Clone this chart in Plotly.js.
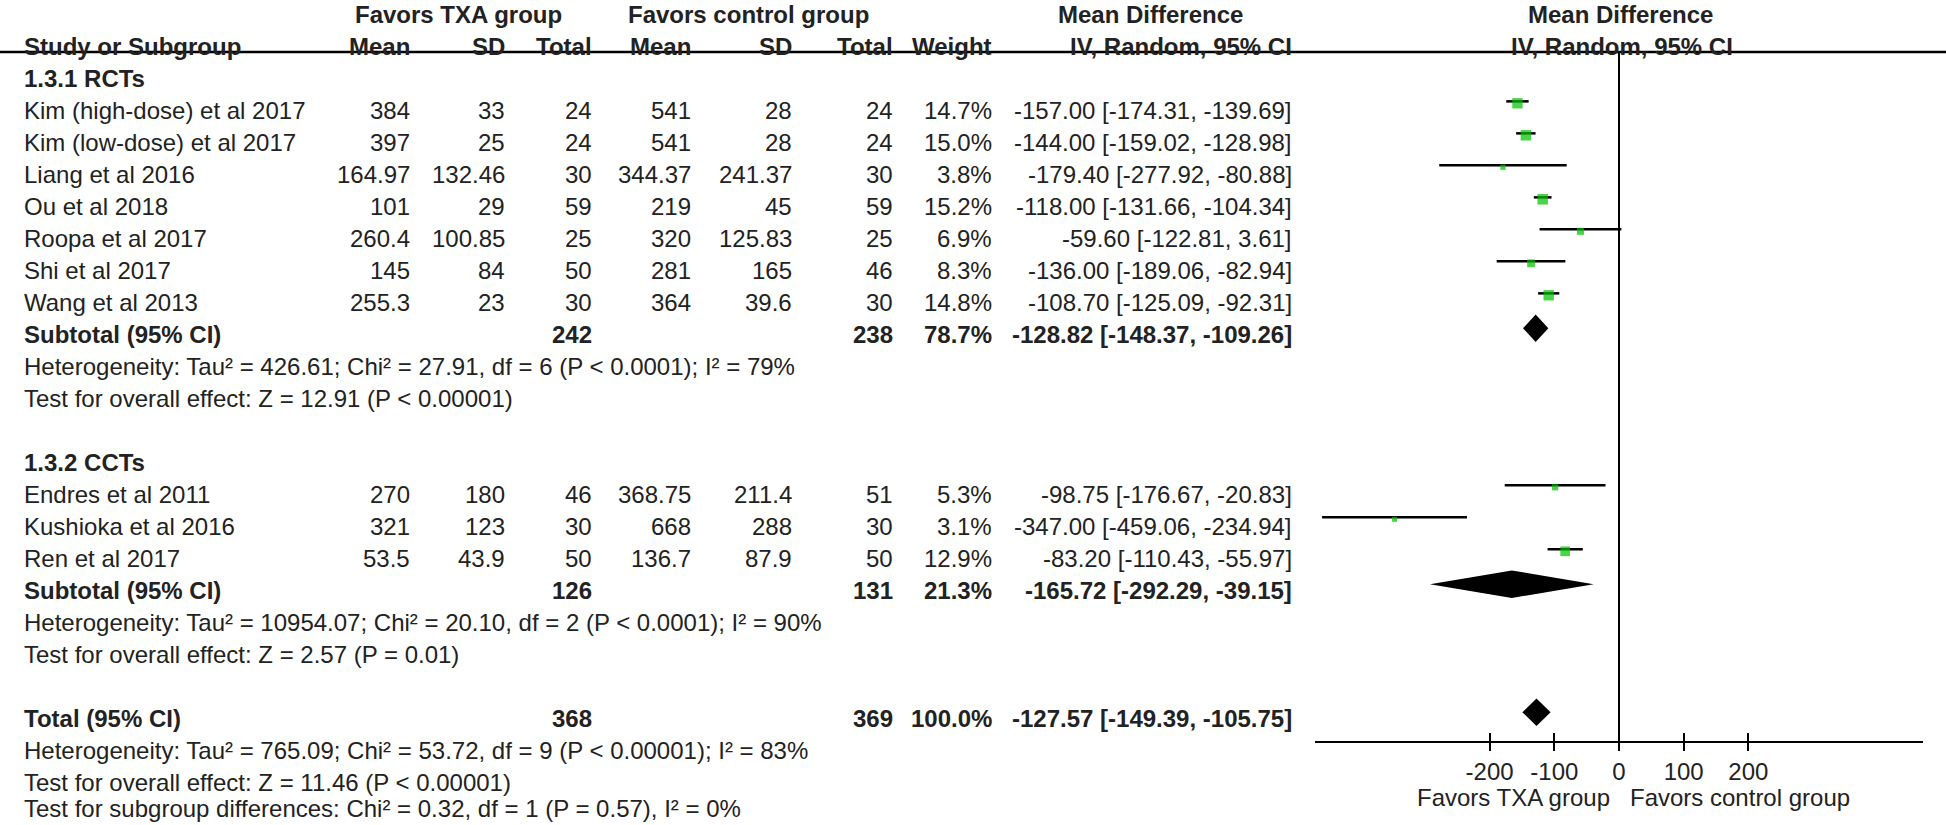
<!DOCTYPE html>
<html>
<head>
<meta charset="utf-8">
<script src="https://cdn.plot.ly/plotly-3.0.1.min.js"></script>
<style>
  html, body { margin: 0; padding: 0; background: #fff; }
  #fig { width: 1946px; height: 825px; }
</style>
</head>
<body>
<div id="fig"></div>
<script>
// study level data
const studies = ['Kim (high-dose) et al 2017', 'Kim (low-dose) et al 2017', 'Liang et al 2016',
  'Ou et al 2018', 'Roopa et al 2017', 'Shi et al 2017', 'Wang et al 2013',
  'Endres et al 2011', 'Kushioka et al 2016', 'Ren et al 2017'];
const group = [0, 0, 0, 0, 0, 0, 0, 1, 1, 1];
const txaMean = [384, 397, 164.97, 101, 260.4, 145, 255.3, 270, 321, 53.5];
const txaSD = [33, 25, 132.46, 29, 100.85, 84, 23, 180, 123, 43.9];
const txaN = [24, 24, 30, 59, 25, 50, 30, 46, 30, 50];
const ctlMean = [541, 541, 344.37, 219, 320, 281, 364, 368.75, 668, 136.7];
const ctlSD = [28, 28, 241.37, 45, 125.83, 165, 39.6, 211.4, 288, 87.9];
const ctlN = [24, 24, 30, 59, 25, 46, 30, 51, 30, 50];
const weight = [14.7, 15.0, 3.8, 15.2, 6.9, 8.3, 14.8, 5.3, 3.1, 12.9];
const md = [-157.00, -144.00, -179.40, -118.00, -59.60, -136.00, -108.70, -98.75, -347.00, -83.20];
const ciLow = [-174.31, -159.02, -277.92, -131.66, -122.81, -189.06, -125.09, -176.67, -459.06, -110.43];
const ciHigh = [-139.69, -128.98, -80.88, -104.34, 3.61, -82.94, -92.31, -20.83, -234.94, -55.97];

// subgroups
const subNames = ['1.3.1 RCTs', '1.3.2 CCTs'];
const subTxaN = [242, 126];
const subCtlN = [238, 131];
const subWeight = [78.7, 21.3];
const subMd = [-128.82, -165.72];
const subLow = [-148.37, -292.29];
const subHigh = [-109.26, -39.15];
const subHet = ['Heterogeneity: Tau² = 426.61; Chi² = 27.91, df = 6 (P < 0.0001); I² = 79%',
  'Heterogeneity: Tau² = 10954.07; Chi² = 20.10, df = 2 (P < 0.0001); I² = 90%'];
const subTest = ['Test for overall effect: Z = 12.91 (P < 0.00001)',
  'Test for overall effect: Z = 2.57 (P = 0.01)'];

// overall
const totTxaN = 368, totCtlN = 369, totWeight = 100.0;
const totMd = -127.57, totLow = -149.39, totHigh = -105.75;
const totNotes = ['Heterogeneity: Tau² = 765.09; Chi² = 53.72, df = 9 (P < 0.00001); I² = 83%',
  'Test for overall effect: Z = 11.46 (P < 0.00001)',
  'Test for subgroup differences: Chi² = 0.32, df = 1 (P = 0.57), I² = 0%'];

const tickVals = [-200, -100, 0, 100, 200];

// ---- layout constants (pixels) ----
const W = 1946, H = 825;
const ROW0 = 14, PITCH = 32;            // row r sits at ROW0 + r*PITCH px
const LINE_OFF = -0.27;                  // CI lines sit above the text centre
const SQ_OFF = -0.21;                    // squares a touch below their line
const DIA_OFF = -0.18;
const FONT = 'Liberation Sans, Arial, sans-serif';
const TXT = '#222';
const FS = 24;
const col = {study: 22, tMean: 412, tSD: 507, tN: 594, cMean: 693, cSD: 794, cN: 895, wt: 994, ci: 1294};

const fmtCI = (m, l, h) => m.toFixed(2) + ' [' + l.toFixed(2) + ', ' + h.toFixed(2) + ']';
const annotations = [];
function ann(text, xpx, r, anchor, bold) {
  annotations.push({
    text: bold ? '<b>' + text + '</b>' : text,
    xref: 'paper', yref: 'y', x: xpx / W, y: r,
    xanchor: anchor, yanchor: 'middle', showarrow: false,
    font: {family: FONT, size: FS, color: TXT}
  });
}

// headers
ann('Favors TXA group', 458, 0, 'center', true);
ann('Favors control group', 748, 0, 'center', true);
ann('Mean Difference', 1150, 0, 'center', true);
ann('Mean Difference', 1620, 0, 'center', true);
ann('Study or Subgroup', col.study, 1, 'left', true);
ann('Mean', col.tMean, 1, 'right', true);
ann('SD', col.tSD, 1, 'right', true);
ann('Total', col.tN, 1, 'right', true);
ann('Mean', col.cMean, 1, 'right', true);
ann('SD', col.cSD, 1, 'right', true);
ann('Total', col.cN, 1, 'right', true);
ann('Weight', col.wt, 1, 'right', true);
ann('IV, Random, 95% CI', col.ci, 1, 'right', true);
ann('IV, Random, 95% CI', 1622, 1, 'center', true);

// forest mark containers
const ciX = [], ciY = [], sqX = [], sqY = [], sqS = [];
const diamonds = [];

let r = 2;
subNames.forEach((name, g) => {
  ann(name, col.study, r, 'left', true);
  r++;
  studies.forEach((s, i) => {
    if (group[i] !== g) return;
    ann(s, col.study, r, 'left');
    ann(String(txaMean[i]), col.tMean, r, 'right');
    ann(String(txaSD[i]), col.tSD, r, 'right');
    ann(String(txaN[i]), col.tN, r, 'right');
    ann(String(ctlMean[i]), col.cMean, r, 'right');
    ann(String(ctlSD[i]), col.cSD, r, 'right');
    ann(String(ctlN[i]), col.cN, r, 'right');
    ann(weight[i].toFixed(1) + '%', col.wt, r, 'right');
    ann(fmtCI(md[i], ciLow[i], ciHigh[i]), col.ci, r, 'right');
    ciX.push(ciLow[i], ciHigh[i], null);
    ciY.push(r + LINE_OFF, r + LINE_OFF, null);
    sqX.push(md[i]); sqY.push(r + SQ_OFF);
    sqS.push(Math.max(5, 2.7 * Math.sqrt(weight[i])));
    r++;
  });
  ann('Subtotal (95% CI)', col.study, r, 'left', true);
  ann(String(subTxaN[g]), col.tN, r, 'right', true);
  ann(String(subCtlN[g]), col.cN, r, 'right', true);
  ann(subWeight[g].toFixed(1) + '%', col.wt, r, 'right', true);
  ann(fmtCI(subMd[g], subLow[g], subHigh[g]), col.ci, r, 'right', true);
  diamonds.push({m: subMd[g], l: subLow[g], h: subHigh[g], r: r});
  r++;
  ann(subHet[g], col.study, r, 'left'); r++;
  ann(subTest[g], col.study, r, 'left'); r++;
  r++; // blank row
});
ann('Total (95% CI)', col.study, r, 'left', true);
ann(String(totTxaN), col.tN, r, 'right', true);
ann(String(totCtlN), col.cN, r, 'right', true);
ann(totWeight.toFixed(1) + '%', col.wt, r, 'right', true);
ann(fmtCI(totMd, totLow, totHigh), col.ci, r, 'right', true);
diamonds.push({m: totMd, l: totLow, h: totHigh, r: r});
r++;
// last note sits on the bottom edge; nudge it up so it stays inside the page
totNotes.forEach((t, k) => {
  ann(t, col.study, k === totNotes.length - 1 ? r - 0.17 : r, 'left');
  r++;
});

// axis footer labels
const AXIS_PX = 742;
const pxToRow = px => (px - ROW0) / PITCH;
ann('Favors TXA group', 1612, pxToRow(797), 'right');
ann('Favors control group', 1628, pxToRow(797), 'left');

const traces = [];
traces.push({x: ciX, y: ciY, mode: 'lines', line: {color: '#000', width: 2.5},
  hoverinfo: 'skip', showlegend: false});
traces.push({x: sqX, y: sqY, mode: 'markers',
  marker: {symbol: 'square', size: sqS, color: '#00c000', line: {width: 0}},
  hoverinfo: 'skip', showlegend: false});
const DH = 0.43;
diamonds.forEach(d => {
  const y = d.r + DIA_OFF;
  traces.push({x: [d.l, d.m, d.h, d.m, d.l], y: [y, y - DH, y, y + DH, y],
    mode: 'lines', fill: 'toself', fillcolor: '#000', line: {width: 0, color: '#000'},
    hoverinfo: 'skip', showlegend: false});
});
// carrier for the second (inward tick) axis
traces.push({x: [null], y: [null], xaxis: 'x2', yaxis: 'y', mode: 'markers',
  showlegend: false, hoverinfo: 'skip'});

const xDomain = [1315 / W, 1923 / W];
const xRange = [-470, 470];
const axPos = 1 - AXIS_PX / H;

const layout = {
  width: W, height: H,
  margin: {l: 0, r: 0, t: 0, b: 0, pad: 0},
  paper_bgcolor: '#fff', plot_bgcolor: 'rgba(0,0,0,0)',
  showlegend: false,
  font: {family: FONT, color: TXT},
  xaxis: {domain: xDomain, range: xRange, anchor: 'free', position: axPos,
    showline: true, linecolor: '#000', linewidth: 2,
    ticks: 'outside', ticklen: 8, tickwidth: 2, tickcolor: '#000',
    tickmode: 'array', tickvals: tickVals, ticktext: tickVals.map(String),
    tickfont: {family: FONT, size: FS, color: TXT},
    showgrid: false, zeroline: false, fixedrange: true},
  xaxis2: {domain: xDomain, range: xRange, anchor: 'free', position: axPos, overlaying: 'x',
    showline: false, ticks: 'inside', ticklen: 9, tickwidth: 2, tickcolor: '#000',
    tickmode: 'array', tickvals: tickVals, showticklabels: false,
    showgrid: false, zeroline: false, fixedrange: true},
  yaxis: {domain: [0, 1], range: [(H - ROW0) / PITCH, -ROW0 / PITCH],
    visible: false, fixedrange: true},
  shapes: [
    {type: 'line', xref: 'paper', yref: 'y', x0: 0, x1: 1,
      y0: pxToRow(52), y1: pxToRow(52), line: {color: '#000', width: 2.5}},
    {type: 'line', xref: 'x', yref: 'y', x0: 0, x1: 0,
      y0: pxToRow(52), y1: pxToRow(AXIS_PX), line: {color: '#000', width: 2}}
  ],
  annotations: annotations
};

Plotly.newPlot('fig', traces, layout, {staticPlot: true, displayModeBar: false});
</script>
</body>
</html>
